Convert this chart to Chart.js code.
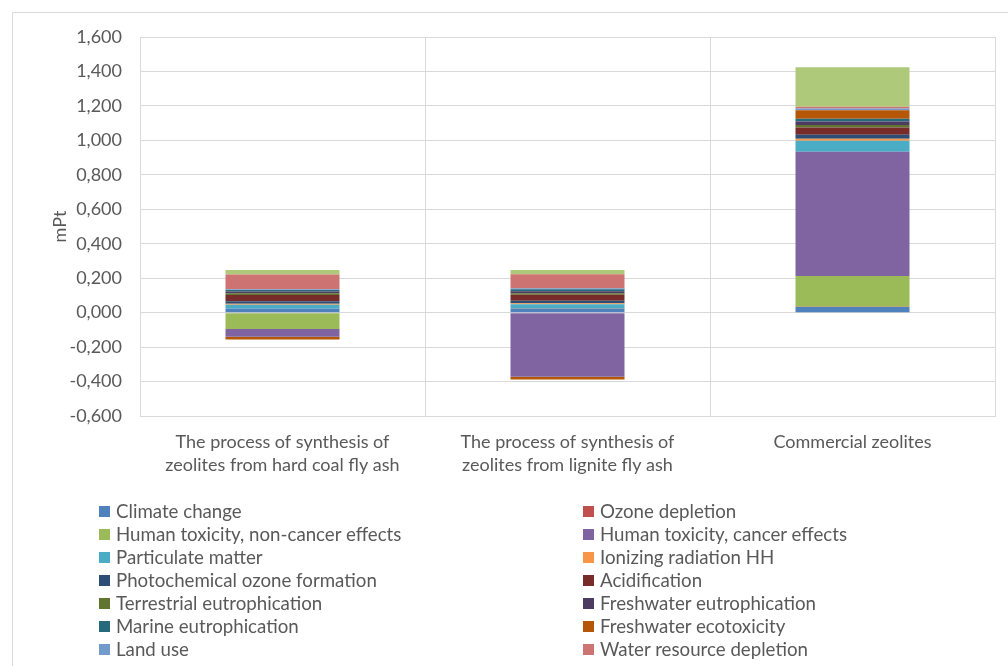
<!DOCTYPE html>
<html>
<head>
<meta charset="utf-8">
<script src="https://cdn.jsdelivr.net/npm/chart.js@4/dist/chart.umd.min.js"></script>
<style>
  html, body { margin: 0; padding: 0; background: #fff; overflow: hidden; }
  body { width: 1008px; height: 666px; position: relative; font-family: Lato, "Noto Sans", sans-serif; }
  #frame { position: absolute; left: 12px; top: 12px; width: 1100px; height: 700px; border: 1px solid #d9d9d9; box-sizing: border-box; }
  #chartBox { position: absolute; left: 0; top: 0; width: 1008px; height: 490px; }
  #legend { position: absolute; left: 0; top: 0; width: 1008px; height: 666px; pointer-events: none; }
  .item { position: absolute; height: 23px; line-height: 23px; font-size: 18.7px; color: #595959; white-space: nowrap; }
  .item .box { position: absolute; left: 0; top: 6px; width: 11px; height: 11px; }
  .item span.txt { position: absolute; left: 17px; top: 0; }
</style>
</head>
<body>
<div id="frame"></div>
<div id="chartBox"><canvas id="lcaChart"></canvas></div>
<div id="legend"></div>
<script>
// categories (x axis)
const categories = [
  ["The process of synthesis of", "zeolites from hard coal fly ash"],
  ["The process of synthesis of", "zeolites from lignite fly ash"],
  "Commercial zeolites"
];

// impact categories, values in mPt (hard coal, lignite, commercial)
const climateChange      = [0.022, 0.021, 0.032];
const ozoneDepletion     = [0.001, 0.001, 0.002];
const humanToxNonCancer  = [-0.095, 0.000, 0.178];
const humanToxCancer     = [-0.045, -0.372, 0.722];
const particulateMatter  = [0.023, 0.027, 0.064];
const ionizingRadiation  = [0.005, 0.005, 0.012];
const photochemOzone     = [0.015, 0.015, 0.023];
const acidification      = [0.036, 0.035, 0.041];
const terrestrialEutro   = [0.010, 0.008, 0.015];
const freshwaterEutro    = [0.010, 0.012, 0.020];
const marineEutro        = [0.010, 0.012, 0.016];
const freshwaterEcotox   = [-0.016, -0.016, 0.050];
const landUse            = [0.004, 0.005, 0.010];
const waterDepletion     = [0.085, 0.082, 0.010];
// last series: its legend entry falls outside the visible picture
const resourceDepletion  = [0.027, 0.025, 0.229];

const seriesNames = [
  "Climate change", "Ozone depletion",
  "Human toxicity, non-cancer effects", "Human toxicity, cancer effects",
  "Particulate matter", "Ionizing radiation HH",
  "Photochemical ozone formation", "Acidification",
  "Terrestrial eutrophication", "Freshwater eutrophication",
  "Marine eutrophication", "Freshwater ecotoxicity",
  "Land use", "Water resource depletion",
  "Mineral, fossil & ren resource depletion"
];
const seriesValues = [
  climateChange, ozoneDepletion, humanToxNonCancer, humanToxCancer,
  particulateMatter, ionizingRadiation, photochemOzone, acidification,
  terrestrialEutro, freshwaterEutro, marineEutro, freshwaterEcotox,
  landUse, waterDepletion, resourceDepletion
];
const seriesColors = [
  "#4F81BD", "#C0504D", "#9BBB59", "#8064A2", "#4BACC6", "#F79646",
  "#2C4D75", "#772C2A", "#5F7530", "#4D3B62", "#276A7C", "#B65708",
  "#729ACA", "#CD7371", "#AFC97A"
];
const legendCount = 14; // entries visible in the picture

const yMin = -0.6, yMax = 1.6, yStep = 0.2;

const textColor = "#595959";
const gridColor = "#d9d9d9";
const fontFamily = "Lato, 'Noto Sans', sans-serif";

// 1,600 style labels (comma decimal)
function formatTick(v) {
  return v.toFixed(3).replace(".", ",");
}

function buildDatasets() {
  return seriesNames.map((name, i) => ({
    label: name,
    data: seriesValues[i],
    backgroundColor: seriesColors[i],
    borderWidth: 0,
    barPercentage: 0.4,
    categoryPercentage: 1.0
  }));
}

function buildLegend() {
  const legend = document.getElementById("legend");
  for (let i = 0; i < legendCount; i++) {
    const row = Math.floor(i / 2);
    const col = i % 2;
    const el = document.createElement("div");
    el.className = "item";
    el.style.left = (col === 0 ? 99 : 583) + "px";
    el.style.top = (499.5 + row * 23) + "px";
    el.innerHTML = `<div class="box" style="background:${seriesColors[i]}"></div><span class="txt">${seriesNames[i]}</span>`;
    legend.appendChild(el);
  }
}

const chart = new Chart(document.getElementById("lcaChart"), {
  type: "bar",
  data: {
    labels: categories,
    datasets: buildDatasets()
  },
  options: {
    responsive: true,
    maintainAspectRatio: false,
    animation: false,
    layout: { padding: { top: 37, right: 13, left: 0, bottom: 0 } },
    plugins: {
      legend: { display: false },
      tooltip: { enabled: false }
    },
    scales: {
      x: {
        stacked: true,
        grid: { color: gridColor, drawTicks: false, offset: true },
        border: { color: gridColor },
        ticks: {
          color: textColor,
          padding: 15,
          maxRotation: 0,
          font: { family: fontFamily, size: 18, lineHeight: 23 / 18 }
        },
        afterFit: (scale) => { scale.height = 74; }
      },
      y: {
        stacked: true,
        min: yMin,
        max: yMax,
        grid: { color: gridColor, drawTicks: false },
        border: { color: gridColor },
        ticks: {
          stepSize: yStep,
          color: textColor,
          padding: 18,
          font: { family: fontFamily, size: 18 },
          callback: (v) => formatTick(v)
        },
        title: {
          display: true,
          text: "mPt",
          color: textColor,
          padding: { top: 49 },
          font: { family: fontFamily, size: 18, weight: "normal" }
        },
        afterFit: (scale) => { scale.width = 140; }
      }
    }
  }
});

buildLegend();
</script>
</body>
</html>
